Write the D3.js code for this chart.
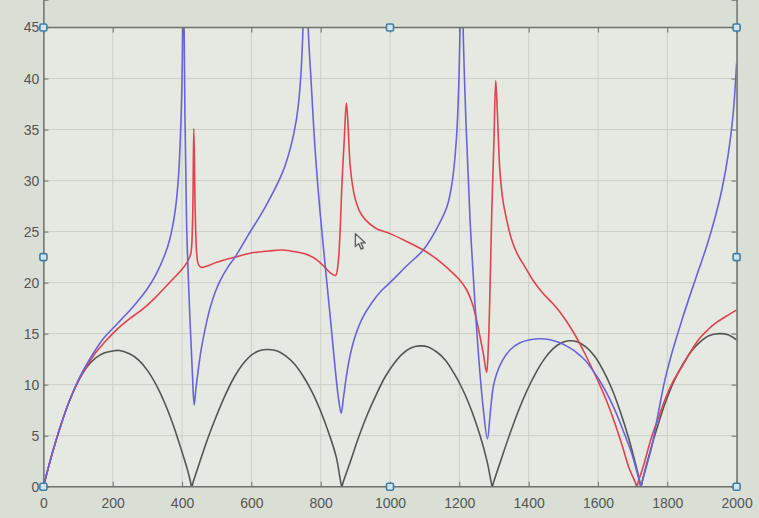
<!DOCTYPE html>
<html>
<head>
<meta charset="utf-8">
<script src="https://cdn.jsdelivr.net/npm/d3@7"></script>
<style>
  html, body { margin: 0; padding: 0; background: #dadfd6; }
  svg { display: block; }
</style>
</head>
<body>
<div id="grafico"></div>
<script>
/* global d3 */

// curvas: [x, y]
const blackCurve = [
  [0, 0], [25, 3.2], [50, 6.0], [75, 8.4], [100, 10.3], [125, 11.7], [150, 12.6], [175, 13.1], [200, 13.3], [220, 13.35],
  [250, 13.0], [275, 12.4], [300, 11.4], [325, 10.0], [350, 8.2], [375, 6.0], [400, 3.4], [415, 1.75], [424, 0.55], [428, 0],
  [432, 0.45], [450, 2.3], [475, 4.8], [500, 7.0], [525, 9.0], [550, 10.7], [575, 12.0], [600, 12.9], [625, 13.35], [650, 13.45],
  [675, 13.3], [700, 12.8], [725, 12.0], [750, 10.8], [775, 9.3], [800, 7.4], [825, 5.1], [845, 2.9], [857, 0.6], [861, 0],
  [865, 0.45], [885, 2.4], [910, 4.9], [935, 7.1], [960, 9.0], [985, 10.7], [1010, 12.0], [1035, 13.0], [1060, 13.6], [1085, 13.8],
  [1110, 13.7], [1135, 13.2], [1160, 12.4], [1185, 11.1], [1210, 9.5], [1235, 7.5], [1260, 5.0], [1280, 2.5], [1291, 0.6], [1295, 0],
  [1299, 0.45], [1320, 2.6], [1345, 5.1], [1370, 7.4], [1395, 9.4], [1420, 11.1], [1445, 12.5], [1470, 13.5], [1495, 14.1], [1515, 14.3],
  [1540, 14.2], [1565, 13.7], [1590, 12.8], [1615, 11.4], [1640, 9.6], [1665, 7.3], [1690, 4.6], [1710, 2.0], [1720, 0.6], [1724, 0],
  [1728, 0.55], [1745, 2.8], [1770, 5.7], [1795, 8.3], [1820, 10.4], [1845, 12.0], [1870, 13.3], [1895, 14.2], [1920, 14.8], [1950, 15.0],
  [1975, 14.9], [2000, 14.4]
]

const blueCurve = [
  [0, 0], [25, 3.2], [50, 6.0], [75, 8.4], [100, 10.4], [125, 12.0], [150, 13.4], [175, 14.6], [200, 15.5], [225, 16.4],
  [250, 17.3], [275, 18.3], [300, 19.4], [325, 20.8], [350, 22.7], [365, 24.3], [380, 27.0], [390, 30.5], [397, 36],
  [401, 42], [403.5, 60], [406, 45], [413, 26], [423, 16.3], [430, 11], [435, 8.0], [440, 9.6], [447, 11.5], [455, 13.4],
  [465, 15.2], [480, 17.4], [495, 19.0], [510, 20.2], [530, 21.4], [555, 22.6], [590, 24.6], [640, 27.4], [690, 30.8],
  [715, 33.5], [730, 36], [740, 39], [748, 44], [757, 62], [764, 45], [772, 40], [784, 33], [798, 27], [812, 22],
  [828, 16.5], [842, 11.5], [852, 8.5], [859, 7.2], [866, 8.8], [875, 11], [885, 12.9], [899, 14.7], [920, 16.5],
  [947, 18.0], [975, 19.2], [1000, 20.0], [1050, 21.7], [1096, 23.2], [1130, 25], [1164, 27.4], [1180, 30], [1192, 34.3],
  [1198, 39], [1202, 45], [1206, 62], [1211, 45], [1220, 35], [1231, 26.1], [1245, 18], [1255, 13.1], [1268, 8],
  [1281, 4.7], [1290, 7.5], [1298, 9.8], [1308, 11.1], [1325, 12.4], [1346, 13.4], [1375, 14.1], [1404, 14.4],
  [1435, 14.5], [1462, 14.4], [1490, 14.1], [1519, 13.6], [1540, 13.1], [1563, 12.4], [1585, 11.4], [1601, 10.6],
  [1625, 9.2], [1649, 7.5], [1675, 5.3], [1697, 3.3], [1712, 1.5], [1720, 0.5], [1724, 0], [1728, 0.55], [1740, 2.0],
  [1755, 3.9], [1775, 7.4], [1793, 10.45], [1815, 13.3], [1842, 16.3], [1865, 18.7], [1890, 21.2], [1915, 23.7],
  [1938, 26.4], [1958, 29.2], [1976, 32.6], [1990, 36.5], [2000, 41.5]
]

const redCurve = [
  [0, 0], [25, 3.2], [50, 6.0], [75, 8.4], [100, 10.3], [125, 11.8], [150, 13.1], [175, 14.1], [200, 15.0], [225, 15.8],
  [250, 16.5], [275, 17.1], [300, 17.8], [325, 18.6], [350, 19.5], [375, 20.4], [400, 21.3], [415, 22.0], [425, 22.8],
  [430, 25.5], [434, 35.1], [438, 27], [442, 23], [447, 21.8], [455, 21.5], [470, 21.6], [500, 22.0], [553, 22.5],
  [600, 22.9], [650, 23.1], [688, 23.2], [730, 23.0], [764, 22.7], [790, 22.2], [812, 21.5], [830, 20.9], [843, 20.7],
  [850, 21.8], [856, 25], [861, 29.4], [868, 34], [874, 37.6], [878, 36], [885, 31.5], [892, 29.5], [899, 28.3],
  [912, 27.0], [928, 26.2], [960, 25.3], [1000, 24.8], [1050, 24.0], [1096, 23.2], [1135, 22.3], [1173, 21.2],
  [1200, 20.3], [1221, 19.3], [1237, 18.0], [1250, 16.3], [1262, 14.3], [1269, 13.1], [1275, 11.8], [1279, 11.2],
  [1284, 14], [1289, 20], [1293, 26.1], [1300, 34], [1305, 39.8], [1310, 36.5], [1317, 31], [1326, 28], [1337, 26.1],
  [1350, 24.3], [1366, 22.9], [1390, 21.5], [1413, 20.2], [1440, 19.0], [1471, 17.9], [1495, 16.9], [1519, 15.7],
  [1540, 14.5], [1560, 13.2], [1580, 11.8], [1601, 10.3], [1625, 8.4], [1649, 6.2], [1672, 3.8], [1690, 1.8],
  [1708, 0.4], [1712, 0], [1716, 0.45], [1730, 1.9], [1755, 4.9], [1775, 6.8], [1793, 8.5], [1815, 10.2], [1842, 11.75],
  [1865, 13.1], [1890, 14.4], [1915, 15.3], [1938, 16.0], [1970, 16.7], [2000, 17.3]
]

const xTicks = [0, 200, 400, 600, 800, 1000, 1200, 1400, 1600, 1800, 2000]
const yTicks = [0, 5, 10, 15, 20, 25, 30, 35, 40, 45]

const width = 759
const height = 518
const margin = { top: 27.5, right: 22.4, bottom: 31.3, left: 43.4 }
const axisColor = '#6e716c'
const gridColor = '#cbd0c7'
const textColor = '#555'

const svg = d3.select('#grafico')
  .append('svg')
  .attr('width', width)
  .attr('height', height)

svg.append('rect')
  .attr('width', width)
  .attr('height', height)
  .attr('fill', '#dadfd6')

const x = d3.scaleLinear()
  .domain([0, 2000])
  .range([margin.left, width - margin.right])

const y = d3.scaleLinear()
  .domain([0, 45])
  .range([height - margin.bottom, margin.top])

// area do grafico
svg.append('rect')
  .attr('x', x(0))
  .attr('y', y(45))
  .attr('width', x(2000) - x(0))
  .attr('height', y(0) - y(45))
  .attr('fill', '#e5e9e1')

// grelha
svg.append('g')
  .selectAll('line')
  .data(xTicks)
  .join('line')
  .attr('x1', d => x(d))
  .attr('x2', d => x(d))
  .attr('y1', y(0))
  .attr('y2', y(45))
  .attr('stroke', gridColor)
  .attr('stroke-width', 1)

svg.append('g')
  .selectAll('line')
  .data(yTicks)
  .join('line')
  .attr('x1', x(0))
  .attr('x2', x(2000))
  .attr('y1', d => y(d))
  .attr('y2', d => y(d))
  .attr('stroke', gridColor)
  .attr('stroke-width', 1)

svg.append('clipPath')
  .attr('id', 'clip')
  .append('rect')
  .attr('x', x(0))
  .attr('y', y(45))
  .attr('width', x(2000) - x(0))
  .attr('height', y(0) - y(45))

const line = d3.line()
  .x(d => x(d[0]))
  .y(d => y(d[1]))
  .curve(d3.curveCatmullRom.alpha(0.5))

const series = [
  { data: blackCurve, color: '#555653' },
  { data: redCurve, color: '#e2414f' },
  { data: blueCurve, color: '#6a62dc' }
]

svg.append('g')
  .attr('clip-path', 'url(#clip)')
  .selectAll('path')
  .data(series)
  .join('path')
  .attr('d', d => line(d.data))
  .attr('fill', 'none')
  .attr('stroke', d => d.color)
  .attr('stroke-width', 1.6)
  .attr('stroke-linejoin', 'round')

// eixos (caixa com ticks para dentro)
const tickLen = 5
const xAxis = (g, pos, dir) => {
  g.attr('transform', `translate(0,${pos})`)
    .call(d3.axisBottom(x).tickValues(xTicks).tickSize(dir * tickLen).tickFormat(dir > 0 ? '' : d3.format('d')))
    .call(g => g.selectAll('.domain').attr('stroke', axisColor).attr('stroke-width', 1.5))
    .call(g => g.selectAll('.tick line').attr('stroke', axisColor))
}

const yAxis = (g, pos, dir) => {
  g.attr('transform', `translate(${pos},0)`)
    .call(d3.axisLeft(y).tickValues(yTicks).tickSize(dir * tickLen).tickFormat(dir > 0 ? '' : d3.format('d')))
    .call(g => g.selectAll('.domain').attr('stroke', axisColor).attr('stroke-width', 1.5))
    .call(g => g.selectAll('.tick line').attr('stroke', axisColor))
}

svg.append('g').call(xAxis, y(45), 1)
svg.append('g').call(yAxis, x(2000), 1)
const xa = svg.append('g').call(xAxis, y(0), -1)
const ya = svg.append('g').call(yAxis, x(0), -1)

xa.selectAll('.tick text')
  .attr('y', 11)
  .attr('dy', '0.71em')
ya.selectAll('.tick text')
  .attr('x', -4)

svg.selectAll('.tick text')
  .style('font-family', '"Liberation Sans", Arial, sans-serif')
  .style('font-size', '14px')
  .attr('fill', textColor)

svg.selectAll('path.domain')
  .attr('d', function () { return d3.select(this).attr('d').replace(/V-?\d+(\.\d+)?H/, 'V0H') })

// pegas de selecao da figura
const handles = [
  [0, 45], [1000, 45], [2000, 45],
  [0, 22.5], [2000, 22.5],
  [0, 0], [1000, 0], [2000, 0]
]

svg.append('g')
  .selectAll('rect')
  .data(handles)
  .join('rect')
  .attr('x', d => x(d[0]) - 3.5)
  .attr('y', d => y(d[1]) - 3.5)
  .attr('width', 7)
  .attr('height', 7)
  .attr('rx', 1.5)
  .attr('fill', '#d3e4ea')
  .attr('stroke', '#3f7fa6')
  .attr('stroke-width', 1.6)

// cursor do rato
svg.append('path')
  .attr('transform', `translate(${x(900)},${y(24.8)})`)
  .attr('d', 'M0,0 L0,13 L3.3,10 L5.8,15.5 L8,14.5 L5.6,9.3 L10,9.3 Z')
  .attr('fill', '#e8ebe5')
  .attr('stroke', '#5a5d58')
  .attr('stroke-width', 1.3)
  .attr('stroke-linejoin', 'round')
</script>
</body>
</html>
